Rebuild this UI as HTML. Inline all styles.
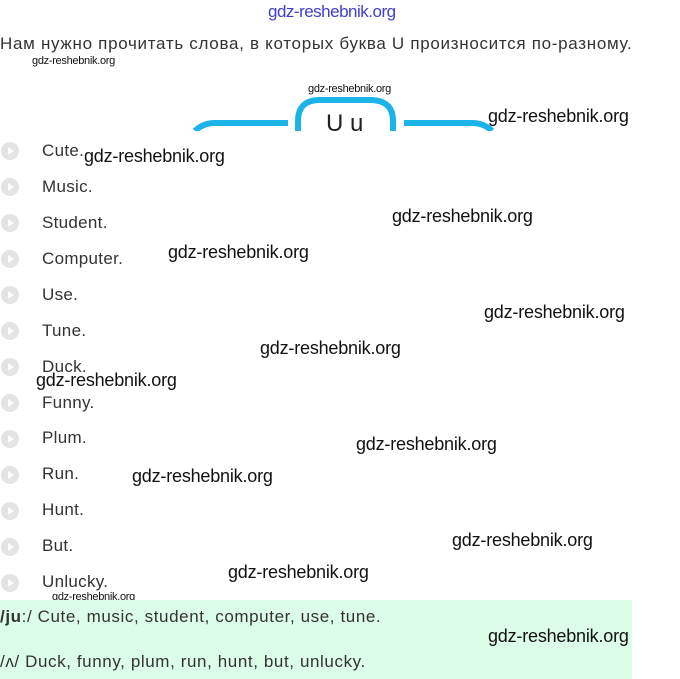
<!DOCTYPE html>
<html><head><meta charset="utf-8"><style>
body{margin:0;width:680px;height:679px;background:#fff;position:relative;overflow:hidden;font-family:"Liberation Sans","DejaVu Sans",sans-serif;}
.a{position:absolute;white-space:nowrap;}
.w{font-family:"Liberation Sans Narrow","Liberation Sans",sans-serif;color:#111;font-size:18px;letter-spacing:-0.2px}
.ws{font-size:11px;letter-spacing:-0.3px}
.it{font-size:17px;color:#333;left:42px;letter-spacing:0.3px}
.ic{position:absolute;left:1px;width:18px;height:18px;border-radius:50%;background:#e4e4e4}
.ic:after{content:"";position:absolute;left:7px;top:5px;border-left:6px solid #fff;border-top:4px solid transparent;border-bottom:4px solid transparent}
</style></head><body>
<div class="a" style="left:268px;top:2px;font-size:17px;color:#4040d0;letter-spacing:-0.5px">gdz-reshebnik.org</div>
<div class="a" style="left:0;top:34px;font-size:17px;color:#333;letter-spacing:0.7px">Нам нужно прочитать слова, в которых буква U произносится по-разному.</div>
<div class="a w ws" style="left:32px;top:55px">gdz-reshebnik.org</div>
<div class="a w ws" style="left:308px;top:83px">gdz-reshebnik.org</div>
<svg class="a" style="left:0;top:95px" width="680" height="40">
<path d="M298 38 L298 26 Q298 5 320 5 L370 5 Q393 5 393 26 L393 38" stroke="#1ab4e8" stroke-width="6" fill="none"/>
<path d="M404 28 L472 28 Q484 28 492 36" stroke="#1ab4e8" stroke-width="6" fill="none"/>
<path d="M195 36 Q203 28 215 28 L288 28" stroke="#1ab4e8" stroke-width="6" fill="none"/>
<rect x="0" y="36" width="680" height="4" fill="#fff"/>
</svg>
<div class="a" style="left:326px;top:110px;font-size:24px;color:#222">U u</div>
<div class="a w" style="left:488px;top:106px">gdz-reshebnik.org</div>

<div class="ic" style="top:142px"></div><div class="a it" style="top:141px">Cute.</div>
<div class="ic" style="top:178px"></div><div class="a it" style="top:177px">Music.</div>
<div class="ic" style="top:214px"></div><div class="a it" style="top:213px">Student.</div>
<div class="ic" style="top:250px"></div><div class="a it" style="top:249px">Computer.</div>
<div class="ic" style="top:286px"></div><div class="a it" style="top:285px">Use.</div>
<div class="ic" style="top:322px"></div><div class="a it" style="top:321px">Tune.</div>
<div class="ic" style="top:358px"></div><div class="a it" style="top:357px">Duck.</div>
<div class="ic" style="top:394px"></div><div class="a it" style="top:393px">Funny.</div>
<div class="ic" style="top:430px"></div><div class="a it" style="top:428px">Plum.</div>
<div class="ic" style="top:466px"></div><div class="a it" style="top:464px">Run.</div>
<div class="ic" style="top:502px"></div><div class="a it" style="top:500px">Hunt.</div>
<div class="ic" style="top:538px"></div><div class="a it" style="top:536px">But.</div>
<div class="ic" style="top:574px"></div><div class="a it" style="top:572px">Unlucky.</div>

<div class="a w" style="left:84px;top:146px">gdz-reshebnik.org</div>
<div class="a w" style="left:392px;top:206px">gdz-reshebnik.org</div>
<div class="a w" style="left:168px;top:242px">gdz-reshebnik.org</div>
<div class="a w" style="left:484px;top:302px">gdz-reshebnik.org</div>
<div class="a w" style="left:260px;top:338px">gdz-reshebnik.org</div>
<div class="a w" style="left:36px;top:370px">gdz-reshebnik.org</div>
<div class="a w" style="left:356px;top:434px">gdz-reshebnik.org</div>
<div class="a w" style="left:132px;top:466px">gdz-reshebnik.org</div>
<div class="a w" style="left:452px;top:530px">gdz-reshebnik.org</div>
<div class="a w" style="left:228px;top:562px">gdz-reshebnik.org</div>
<div class="a w ws" style="left:52px;top:591px">gdz-reshebnik.org</div>

<div class="a" style="left:0;top:600px;width:632px;height:79px;background:#dcfde8"></div>
<div class="a" style="left:0;top:607px;font-size:17px;color:#333;letter-spacing:0.6px"><b>/ju</b>:/ Cute, music, student, computer, use, tune.</div>
<div class="a w" style="left:488px;top:626px">gdz-reshebnik.org</div>
<div class="a" style="left:0;top:652px;font-size:17px;color:#333;letter-spacing:0.6px">/ʌ/ Duck, funny, plum, run, hunt, but, unlucky.</div>
</body></html>
